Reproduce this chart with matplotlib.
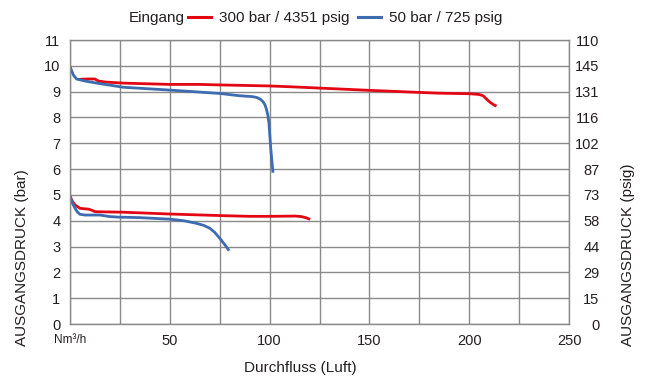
import matplotlib
matplotlib.use("Agg")
import matplotlib.pyplot as plt
from matplotlib.lines import Line2D

plt.rcParams['font.family'] = ['Liberation Sans', 'DejaVu Sans']

# 300 bar inlet, upper curve
red_hi_x = [4, 5.8, 9, 12.5, 14.2, 18, 26.7, 50, 65, 75, 100, 110, 150, 175, 185, 200, 205, 207, 208.3, 209.5, 210.8, 212.5, 213.7]
red_hi_y = [9.47, 9.48, 9.49, 9.49, 9.41, 9.37, 9.33, 9.28, 9.28, 9.26, 9.22, 9.19, 9.05, 8.97, 8.94, 8.92, 8.89, 8.84, 8.74, 8.65, 8.57, 8.48, 8.44]
# 50 bar inlet, upper curve
blue_hi_x = [0, 1.7, 3.3, 7.5, 14.2, 26.7, 50, 75, 85, 91, 93.3, 95.3, 96.7, 97.6, 98.3, 99.1, 99.7, 100.5, 101.1, 101.7]
blue_hi_y = [9.97, 9.64, 9.49, 9.41, 9.32, 9.17, 9.06, 8.93, 8.84, 8.81, 8.78, 8.71, 8.61, 8.5, 8.35, 8.1, 7.77, 6.87, 6.35, 5.86]
# 300 bar inlet, lower curve
red_lo_x = [0, 1.2, 2.5, 5, 9.2, 10.8, 12.5, 26.7, 50, 75, 90, 100, 113, 116, 118.5, 120.3]
red_lo_y = [4.95, 4.75, 4.61, 4.48, 4.45, 4.41, 4.35, 4.33, 4.26, 4.2, 4.17, 4.17, 4.18, 4.16, 4.11, 4.05]
# 50 bar inlet, lower curve
blue_lo_x = [0, 1.2, 2.5, 3.8, 5, 7.5, 10.8, 15, 20, 24.2, 35, 50, 57, 63.3, 67, 70, 72.5, 75, 77.5, 79.7]
blue_lo_y = [4.93, 4.68, 4.48, 4.33, 4.25, 4.22, 4.22, 4.22, 4.16, 4.14, 4.12, 4.06, 4.0, 3.9, 3.82, 3.71, 3.55, 3.32, 3.08, 2.84]

x_ticks = [0, 50, 100, 150, 200, 250]
x_ticklabels = ['Nm³/h', '50', '100', '150', '200', '250']
y_ticks = list(range(0, 12))
psig_labels = ['0', '15', '29', '44', '58', '73', '87', '102', '116', '131', '145', '110']

RED = '#e30613'
BLUE = '#3d6cb0'
GRID = '#8a8a8a'
TXT = '#231f20'

fig = plt.figure(figsize=(6.5, 3.81), dpi=100)
ax = fig.add_axes([70/650, 1-324/381, (569-70)/650, (324-40)/381])

kw = dict(lw=2.0, solid_capstyle='butt', solid_joinstyle='round')
ax.plot(red_hi_x, red_hi_y, color=RED, **kw)
ax.plot(red_lo_x, red_lo_y, color=RED, **kw)
ax.plot(blue_hi_x, blue_hi_y, color=BLUE, **kw)
ax.plot(blue_lo_x, blue_lo_y, color=BLUE, **kw)

ax.set_xlim(0, 250)
ax.set_ylim(0, 11)
ax.set_axisbelow(True)
ax.set_xticks(x_ticks)
ax.set_xticks(range(0, 251, 25), minor=True)
ax.grid(True, which='major', color=GRID, lw=1)
ax.grid(True, which='minor', axis='x', color=GRID, lw=1)
ax.set_xticklabels(x_ticklabels)
ax.set_yticks(y_ticks)
ax.tick_params(axis='both', which='both', length=0, labelsize=10.5, colors=TXT)
ax.tick_params(axis='y', pad=7)
ax.tick_params(axis='x', pad=7)
for lbl in ax.get_xticklabels():
    if lbl.get_text().startswith('Nm'):
        lbl.set_fontsize(8.5)
for s in ax.spines.values():
    s.set_color(GRID)
    s.set_linewidth(1)

ax2 = ax.twinx()
ax2.set_ylim(0, 11)
ax2.set_yticks(y_ticks)
ax2.set_yticklabels(psig_labels)
ax2.tick_params(axis='y', length=0, labelsize=10.5, pad=22, colors=TXT)
for lbl in ax2.get_yticklabels():
    lbl.set_horizontalalignment('right')
for s in ax2.spines.values():
    s.set_visible(False)

fig.text(300/650, 1-368/381, 'Durchfluss (Luft)', ha='center', va='center', fontsize=11, color=TXT)
fig.text(22/650, 1-258/381, 'AUSGANGSDRUCK (bar)', rotation=90, ha='center', va='center', fontsize=11, color=TXT)
fig.text(628/650, 1-255/381, 'AUSGANGSDRUCK (psig)', rotation=90, ha='center', va='center', fontsize=11, color=TXT)

fig.text(185/650, 1-18/381, 'Eingang', ha='right', va='center', fontsize=11, color=TXT)
handles = [Line2D([], [], color=RED, lw=2.2), Line2D([], [], color=BLUE, lw=2.2)]
fig.legend(handles, ['300 bar / 4351 psig', '50 bar / 725 psig'], ncol=2, frameon=False,
           loc='center left', bbox_to_anchor=(188/650, 1-18/381), borderpad=0, borderaxespad=0,
           handlelength=1.5, handletextpad=0.5, columnspacing=0.6, fontsize=11, labelcolor=TXT)

fig.savefig('out.png', dpi=100)
